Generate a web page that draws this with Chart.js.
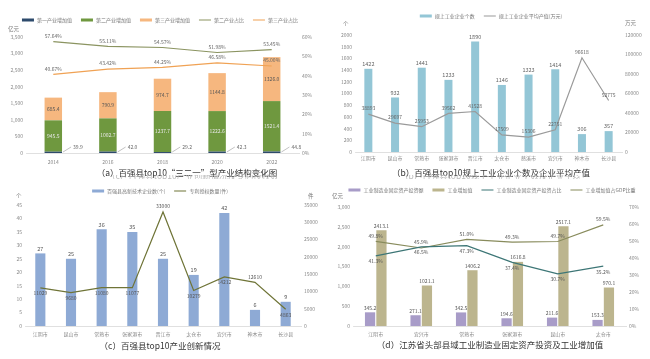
<!DOCTYPE html>
<html><head><meta charset="utf-8">
<script src="https://cdn.jsdelivr.net/npm/chart.js@4.4.0/dist/chart.umd.min.js"></script>
<style>
body{margin:0;background:#fff;width:650px;height:359px;overflow:hidden;position:relative;font-family:"Noto Sans CJK SC","Noto Sans",sans-serif;}
canvas{position:absolute;}
.u{position:absolute;font-size:5.5px;color:#777;white-space:nowrap;}
.cap{position:absolute;font-size:8.5px;color:#333;white-space:nowrap;transform:translate(-50%,-50%);}
.lg{position:absolute;display:flex;gap:9px;font-size:5px;color:#777;white-space:nowrap;transform:translate(-50%,-50%);align-items:center;}
.lg span.i{display:inline-block;width:12px;margin-right:3px;vertical-align:middle;}
.ghost{position:absolute;height:4px;overflow:hidden;}
.ghost div{position:relative;top:-6px;font-size:8.5px;color:#bbb;white-space:nowrap;}
</style>
</head><body>
<canvas id="ca" width="325" height="170" style="left:0;top:0"></canvas>
<canvas id="cb" width="325" height="163" style="left:325px;top:0"></canvas>
<canvas id="cc" width="325" height="160" style="left:0;top:180px"></canvas>
<canvas id="cd" width="325" height="160" style="left:325px;top:180px"></canvas>

<div class="u" style="left:8px;top:25px">亿元</div>
<div class="u" style="left:343px;top:20px">个</div>
<div class="u" style="left:625px;top:19px">万元</div>
<div class="u" style="left:16px;top:192px">个</div>
<div class="u" style="left:308px;top:192px">件</div>
<div class="u" style="left:332px;top:192px">亿元</div>

<div class="cap" style="left:187px;top:172px">（a）百强县top10“三二一”型产业结构变化图</div>
<div class="cap" style="left:491px;top:172px">（b）百强县top10规上工业企业个数及企业平均产值</div>
<div class="cap" style="left:160px;top:345px">（c）百强县top10产业创新情况</div>
<div class="cap" style="left:490px;top:344px">（d）江苏省头部县域工业制造业固定资产投资及工业增加值</div>

<div class="ghost" style="left:107px;top:175px;width:170px"><div>（c）百强县top10产业创新情况及专利授权数量情况</div></div>
<div class="ghost" style="left:400px;top:175px;width:180px"><div>（b）百强县top10规上工业企业个数及企业平均产值</div></div>

<div id="lga" class="lg" style="left:160px;top:19px"></div>
<div id="lgb" class="lg" style="left:491px;top:15px"></div>
<div id="lgc" class="lg" style="left:160px;top:190px"></div>
<div id="lgd" class="lg" style="left:492px;top:189px"></div>

<script>
// ===== (a) 三二一 structure =====
const yearsA = ['2014','2016','2018','2020','2022'];
const primaryA = [39.9, 42.0, 29.2, 42.3, 44.8];
const secondaryA = [945.5, 1002.7, 1237.7, 1222.6, 1521.4];
const tertiaryA = [685.4, 790.9, 974.7, 1144.8, 1326.0];
const secShareA = [57.64, 55.11, 54.57, 51.98, 53.45];
const terShareA = [40.67, 43.42, 44.25, 46.58, 45.00];
const namesA = ['第一产业增加值','第二产业增加值','第三产业增加值','第二产业占比','第三产业占比'];
const leftTicksA = [0,500,1000,1500,2000,2500,3000,3500];
const rightTicksA = [0,10,20,30,40,50,60];

// ===== (b) firms =====
const countiesB = ['江阴市','昆山市','常熟市','张家港市','晋江市','太仓市','慈溪市','宜兴市','神木市','长沙县'];
const firmCountB = [1422, 932, 1441, 1233, 1890, 1146, 1323, 1414, 306, 357];
const avgOutputB = [38893, 29697, 25953, 39562, 41528, 17509, 15306, 22751, 96618, 52775];
const namesB = ['规上工业企业个数','规上工业企业平均产值(万元)'];
const leftTicksB = [0,200,400,600,800,1000,1200,1400,1600,1800,2000];
const rightTicksB = [0,20000,40000,60000,80000,100000,120000];

// ===== (c) innovation =====
const countiesC = ['江阴市','昆山市','常熟市','张家港市','晋江市','太仓市','宜兴市','神木市','长沙县'];
const hiTechC = [27, 25, 36, 35, 25, 19, 42, 6, 9];
const patentsC = [11029, 9680, 11080, 11077, 33000, 10279, 14212, 12610, 4863];
const namesC = ['百强县高新技术企业数(个)','专利授权数量(件)'];
const leftTicksC = [0,5,10,15,20,25,30,35,40,45];
const rightTicksC = [0,5000,10000,15000,20000,25000,30000,35000];

// ===== (d) Jiangsu =====
const countiesD = ['江阴市','宜兴市','常熟市','张家港市','昆山市','太仓市'];
const fixedInvD = [345.2, 271.1, 342.5, 194.6, 211.6, 153.3];
const indValueD = [2413.1, 1021.1, 1406.2, 1616.8, 2517.1, 970.1];
const invShareD = [41.3, 46.5, 47.3, 37.4, 30.7, 35.2];
const valShareD = [49.8, 45.9, 51.0, 49.3, 49.7, 59.5];
const namesD = ['工业制造业固定资产投资额','工业增加值','工业制造业固定资产投资占比','工业增加值占GDP比重'];
const leftTicksD = [0,500,1000,1500,2000,2500,3000];
const rightTicksD = [0,10,20,30,40,50,60,70];

// ===== styles =====
const FONT = '"Noto Sans CJK SC","Noto Sans",sans-serif';
const colA = ['#2d4a6c','#6f983f','#f6b77f','#8b9461','#f0a254'];
const colB = ['#93c6d6','#9a9a9a'];
const colC = ['#8eaad5','#6f7437'];
const colD = ['#a89cc8','#bcb58e','#3d7676','#888b5c'];

function legend(id, names, cols, kinds){
  const el = document.getElementById(id);
  names.forEach((n,i)=>{
    const d = document.createElement('div');
    const h = kinds[i]==='bar' ? 3 : 1.3;
    d.innerHTML = '<span class="i" style="height:'+h+'px;background:'+cols[i]+'"></span>'+n;
    el.appendChild(d);
  });
}
legend('lga', namesA, colA, ['bar','bar','bar','line','line']);
legend('lgb', namesB, colB, ['bar','line']);
legend('lgc', namesC, colC, ['bar','line']);
legend('lgd', namesD, colD, ['bar','bar','line','line']);

const fixW = w => s => { s.width = w; };
const fixH = h => s => { s.height = h; };
const setTicks = arr => s => { s.ticks = arr.map(v=>({value:v})); };
const tickFont = {size:5, family:FONT};
const tickColor = '#888';

const labelPlugin = {
  id:'dl',
  afterDatasetsDraw(chart){
    const ctx = chart.ctx;
    chart.data.datasets.forEach((ds,i)=>{
      const meta = chart.getDatasetMeta(i);
      if(!ds.dl) return;
      const o = ds.dl;
      meta.data.forEach((el,j)=>{
        const v = ds.data[j];
        const txt = o.fmt ? o.fmt(v) : String(v);
        ctx.save();
        ctx.font = (o.size||5.5)+'px '+FONT;
        ctx.fillStyle = o.color||'#555';
        ctx.textAlign = 'center';
        let x = el.x, y = el.y;
        let pos = o.pos;
        if(o.above && o.above.includes(j)) pos = 'top';
        if(pos==='center'){ y=(el.y+el.base)/2; ctx.textBaseline='middle'; }
        else if(pos==='top'){ y=el.y-(o.off||2); ctx.textBaseline='bottom'; }
        else if(pos==='below'){ y=el.y+(o.off||2); ctx.textBaseline='top'; }
        else if(pos==='leader'){
          const x0 = el.x + el.width/2 + 1, y0 = el.base - 1;
          ctx.strokeStyle = '#999'; ctx.lineWidth = 0.6;
          ctx.beginPath(); ctx.moveTo(x0,y0); ctx.lineTo(x0+8,y0-5); ctx.stroke();
          ctx.textAlign='left'; ctx.textBaseline='middle';
          x = x0+10; y = y0-5;
        }
        ctx.fillText(txt,x,y);
        ctx.restore();
      });
    });
  }
};

function baseOpts(padTop){
  return {responsive:false, animation:false, devicePixelRatio:1,
    layout:{padding:{top:padTop,left:0,right:0,bottom:0}},
    plugins:{legend:{display:false}, tooltip:{enabled:false}}};
}
function yAxis(pos, ticksArr, fmt, w, min, max){
  return {position:pos, min:min, max:max, grid:{display:false, drawTicks:false, tickLength:0}, border:{display:false},
    ticks:{font:tickFont, color:tickColor, padding:3, callback:fmt, autoSkip:false},
    afterBuildTicks:setTicks(ticksArr), afterFit:fixW(w)};
}
function xAxis(h, pad, stacked){
  return {stacked:!!stacked, grid:{display:false, drawTicks:false, tickLength:0}, border:{color:'#d8d8d8', width:0.8},
    ticks:{font:tickFont, color:tickColor, padding:pad, maxRotation:0, autoSkip:false},
    afterFit:fixH(h)};
}
const comma = v => v.toLocaleString('en-US');
const pct = v => v+'%';

// ----- chart (a)
{
  const o = baseOpts(37);
  o.scales = {
    x: xAxis(17, 6, true),
    y: Object.assign(yAxis('left', leftTicksA, comma, 26, 0, 3500), {stacked:true}),
    y1: yAxis('right', rightTicksA, pct, 26, 0, 60)
  };
  new Chart(document.getElementById('ca'), {
    type:'bar',
    data:{labels:yearsA, datasets:[
      {type:'line', label:namesA[3], data:secShareA, yAxisID:'y1', borderColor:colA[3], borderWidth:1.2, pointRadius:0, order:0,
        dl:{pos:'top', off:3, fmt:v=>v.toFixed(2)+'%', color:'#666', size:5}},
      {type:'line', label:namesA[4], data:terShareA, yAxisID:'y1', borderColor:colA[4], borderWidth:1.2, pointRadius:0, order:0,
        dl:{pos:'top', off:3, fmt:v=>v.toFixed(2)+'%', color:'#666', size:5}},
      {label:namesA[0], data:primaryA, backgroundColor:colA[0], stack:'s', order:1, barPercentage:0.32, categoryPercentage:1,
        dl:{pos:'leader', fmt:v=>v.toFixed(1), color:'#666', size:5}},
      {label:namesA[1], data:secondaryA, backgroundColor:colA[1], stack:'s', order:1, barPercentage:0.32, categoryPercentage:1,
        dl:{pos:'center', fmt:v=>v.toFixed(1), color:'#e8e8e8', size:5}},
      {label:namesA[2], data:tertiaryA, backgroundColor:colA[2], stack:'s', order:1, barPercentage:0.32, categoryPercentage:1,
        dl:{pos:'center', fmt:v=>v.toFixed(1), color:'#555', size:5}}
    ]},
    options:o, plugins:[labelPlugin]
  });
}

// ----- chart (b)
{
  const o = baseOpts(35);
  o.scales = {
    x: xAxis(11, 3),
    y: yAxis('left', leftTicksB, v=>v, 30, 0, 2000),
    y1: yAxis('right', rightTicksB, v=>v, 28, 0, 120000)
  };
  new Chart(document.getElementById('cb'), {
    type:'bar',
    data:{labels:countiesB, datasets:[
      {type:'line', label:namesB[1], data:avgOutputB, yAxisID:'y1', borderColor:colB[1], borderWidth:1.2, pointRadius:0, order:0,
        dl:{pos:'top', off:3, color:'#666', size:5}},
      {label:namesB[0], data:firmCountB, backgroundColor:colB[0], order:1, barPercentage:0.3, categoryPercentage:1,
        dl:{pos:'top', off:2, color:'#666', size:5.5}}
    ]},
    options:o, plugins:[labelPlugin]
  });
}

// ----- chart (c)
{
  const o = baseOpts(25);
  o.scales = {
    x: xAxis(14, 5),
    y: yAxis('left', leftTicksC, v=>v, 25, 0, 45),
    y1: yAxis('right', rightTicksC, v=>v, 24, 0, 35000)
  };
  new Chart(document.getElementById('cc'), {
    type:'bar',
    data:{labels:countiesC, datasets:[
      {type:'line', label:namesC[1], data:patentsC, yAxisID:'y1', borderColor:colC[1], borderWidth:1.2, pointRadius:0, order:0,
        dl:{pos:'below', off:3, above:[4,7], color:'#555', size:5}},
      {label:namesC[0], data:hiTechC, backgroundColor:colC[0], order:1, barPercentage:0.33, categoryPercentage:1,
        dl:{pos:'top', off:2, color:'#555', size:5.5}}
    ]},
    options:o, plugins:[labelPlugin]
  });
}

// ----- chart (d)
{
  const o = baseOpts(27);
  o.scales = {
    x: xAxis(14, 5),
    y: yAxis('left', leftTicksD, comma, 28, 0, 3000),
    y1: yAxis('right', rightTicksD, pct, 24, 0, 70)
  };
  new Chart(document.getElementById('cd'), {
    type:'bar',
    data:{labels:countiesD, datasets:[
      {type:'line', label:namesD[2], data:invShareD, yAxisID:'y1', borderColor:colD[2], borderWidth:1.2, pointRadius:0, order:0,
        dl:{pos:'below', off:3, fmt:v=>v.toFixed(1)+'%', color:'#555', size:5}},
      {type:'line', label:namesD[3], data:valShareD, yAxisID:'y1', borderColor:colD[3], borderWidth:1.2, pointRadius:0, order:0,
        dl:{pos:'top', off:3, fmt:v=>v.toFixed(1)+'%', color:'#555', size:5}},
      {label:namesD[0], data:fixedInvD, backgroundColor:colD[0], order:1, barPercentage:0.9, categoryPercentage:0.5,
        dl:{pos:'top', off:2, fmt:v=>v.toFixed(1), color:'#555', size:5}},
      {label:namesD[1], data:indValueD, backgroundColor:colD[1], order:1, barPercentage:0.9, categoryPercentage:0.5,
        dl:{pos:'top', off:2, fmt:v=>v.toFixed(1), color:'#555', size:5}}
    ]},
    options:o, plugins:[labelPlugin]
  });
}
</script>
</body></html>
